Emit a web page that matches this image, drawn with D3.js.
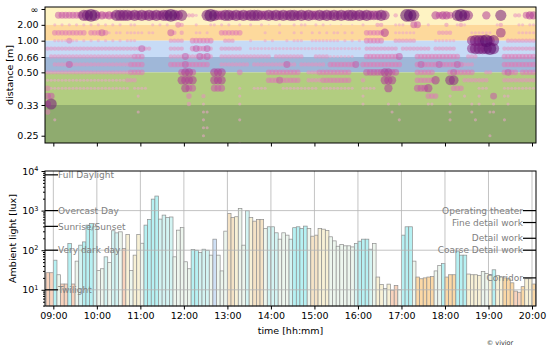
<!DOCTYPE html>
<html>
<head>
<meta charset="utf-8">
<script src="https://cdn.jsdelivr.net/npm/d3@7"></script>
<style>
  body { margin: 0; background: #fff; }
  text { font-family: "DejaVu Sans", sans-serif; }
</style>
</head>
<body>
<div id="chart"></div>
<script>
// ---- data ----
// top panel: viewing distance bins (diopters) and dot intensity per 5-minute column from 08:50
var rowDiopters = [0.2, 0.5, 0.75, 1, 1.25, 1.5, 1.75, 2, 2.25, 2.5, 2.75, 3, 3.25, 3.5, 3.75, 4, 4.25];
var dotRows = [
  "...5555555 8898565658 8887878787 87889878.3 32..898778 8787878887 7878787887 8787787878 7878878787 7787..3..9 98.....656 65.8987... .6...8...3 3.566",
  "..2.2.2.2. 2.2.2.2.2. 2..22....2 .2.2..43.. .2...22.2. 2..2..2..2 .1..2...2. 22..2.2.1. .1..1..2.. .33...222. .55..2.... 3..232.... ....23.... 22.22",
  "..44444444 4.444542.2 2.22222.22 ....53.3.. .22.2...44 4444...... 2...2...2. 2..2.2.2.2 2.2.2...44 4446..2222 22......33 33.....222 222..7.... 22222",
  "..2222422. 2.2.2.2.2. 2.222..... ....3333.. 444444...3 33....2... 2.2...2.22 2..2222222 2.2.2.2.44 444...3333 33.....222 222....788 8978...333 33333",
  "3333333333 3333333333 333333533. ....3333.. 454453..33 3333..2222 2222222222 2222222222 2222222.33 3333333.33 333333.333 333....788 8898..3333 33333",
  ".333333333 3333333333 3333444... ....333353 335453..33 3333333333 33.3333333 3...333322 22222...44 44444445.. ..44444444 4444..333. ......4444 44444",
  "..33335333 3333333333 3334444... ....444454 44444...33 333333.333 333333533. 3333333.44 444445.444 44444444.. ..45444454 44454333.. ......4444 44444",
  "3333333333 3333333333 3334444... .......566 5.....666. ...4...... .444444444 ..33344444 4444....55 5556655... ..44444... .4544444.. .33...4544 .4444",
  "2222222222 2222222222 22333..... .......666 6.....666. .......... .444544444 ..33334444 4444...3.. ...666.... ..444446.. .77..33333 33....3333 33333",
  "4222222222 2222222222 222.2222.. ........65 5.....555. ...2...222 2....22222 22222.2222 22222..222 2...6..... ..5556.... ..444....2 22....2222 22222",
  "55........ .......... .....2.... .........4 ...3...... ...2...... .......... .......... .......2.. .......... .....444.. .2...2...2 ...5..22.. .....",
  "58........ .......... .......... .........3 ...2...... ...2...... .......... .......... .......2.. ....2..2.. .....22... .2.....2.2 ...2...2.. .....",
  "4......... .......... .....2.... .......... ...22..... .......... .......... .......... .......... .....2.... .......... .2.....2.. ..22...... .....",
  "..2....... .......... .......... .......... ...2...... ...2...... .......... .......... .......... .......2.. .......... .2......2. ......2... .....",
  ".......... .......... .......... .......... ...22..... .......... .......... .......... .......... .......... .......... .......... .......... .....",
  ".......... .......... .......... .......... ...2...... .......... .......... .......... .......... .......... .......... .......... ..2....... .....",
  ".......... .......... .......... .......... .......... ...2...... .......... .......... .......... .......... .......... .......... .......... ....."
];
var distTicks = [Infinity, 2, 1, 0.66, 0.5, 0.33, 0.25];   // metres
var zoneEdges = [Infinity, 2, 1, 0.66, 0.5, 0.33, 0];       // metres

// bottom panel: 5-minute bins from 08:50
var luxValues = [
  27, 27,
  56, 24, 14, 14, 148, 14, 53, 134, 162, 430, 470, 390,
  31, 34, 68, 49, 310, 274, 291, 110, 250, 31, 75, 250,
  150, 430, 600, 1950, 2330, 610, 770, 670, 690, 68, 321, 375,
  51, 34, 104, 100, 87, 106, 100, 75, 190, 75, 30, 303,
  848, 671, 700, 1135, 134, 990, 671, 542, 598, 598, 354, 390,
  390, 275, 190, 275, 240, 190, 370, 390, 354, 406, 354, 226,
  240, 354, 340, 315, 218, 172, 126, 139, 129, 129, 121, 147,
  169, 190, 190, 106, 148, 21, 13.6, 10.8, 13.9, 9.8, 12.8, 10,
  240, 390, 390, 53, 21, 19, 20, 21, 21.5, 30, 41, 46,
  21, 24, 24, 95, 75, 75, 25, 24, 24, 23, 29, 26,
  23, 32, 23, 21, 20, 19, 15, 9.3, 8.7, 12, 19, 19,
  14
];
// colour temperature class of each bin (1 warm ... 8 cold)
var cctClass = [
  1, 1,
  7, 5, 1, 1, 7, 1, 5, 6, 7, 7, 7, 6,
  5, 5, 6, 5, 6, 6, 5, 1, 4, 5, 4, 4,
  5, 7, 7, 7, 7, 6, 6, 6, 6, 5, 5, 5,
  5, 5, 7, 7, 6, 6, 6, 5, 8, 5, 5, 5,
  3, 3, 4, 5, 5, 6, 4, 3, 3, 3, 5, 6,
  6, 6, 5, 5, 5, 6, 7, 7, 7, 7, 5, 3,
  3, 4, 4, 4, 5, 5, 5, 5, 5, 5, 5, 6,
  7, 7, 7, 6, 5, 4, 4, 5, 4, 1, 1, 5,
  7, 7, 7, 5, 2, 2, 2, 2, 2, 5, 5, 7,
  2, 2, 2, 7, 7, 7, 4, 4, 4, 4, 5, 5,
  4, 7, 4, 4, 2, 2, 2, 1, 1, 2, 4, 4,
  2
];
var leftLevelNames = ["Full Daylight", "Overcast Day", "Sunrise/Sunset", "Very dark day", "Twilight"];
var leftLevelLux = [8000, 1000, 400, 100, 10];
var rightLevelNames = ["Operating theater", "Fine detail work", "Detail work", "Coarse Detail work", "Corridor"];
var rightLevelLux = [1000, 500, 200, 100, 20];

// ---- layout ----
var svgWidth = 550, svgHeight = 349;
var left = 45, right = 536;
var top1 = 7, bottom1 = 143;
var top2 = 171, bottom2 = 306;

var svg = d3.select("#chart").append("svg")
  .attr("width", svgWidth)
  .attr("height", svgHeight);

var t0 = new Date(2020, 0, 1, 8, 50);
function binTime(i, extraMin) { return d3.timeMinute.offset(t0, i * 5 + (extraMin || 0)); }

var x = d3.scaleTime()
  .domain([new Date(2020, 0, 1, 8, 48, 30), new Date(2020, 0, 1, 20, 5, 30)])
  .range([left, right]);
var hourTicks = d3.timeHour.range(new Date(2020, 0, 1, 9), new Date(2020, 0, 1, 20, 1));

// ================= top panel =================
var yTop = d3.scaleLinear().domain([-0.063, 4.23]).range([top1, bottom1]);
var zoneColors = ["#fef3c3", "#fdd99c", "#c7dbf6", "#9fb7d8", "#b2cd80", "#8fab6f"];

svg.append("clipPath").attr("id", "clipTop")
  .append("rect").attr("x", left).attr("y", top1).attr("width", right - left).attr("height", bottom1 - top1);

var topG = svg.append("g").attr("clip-path", "url(#clipTop)");

topG.selectAll(".zone")
  .data(d3.range(zoneEdges.length - 1))
  .enter().append("rect")
  .attr("x", left)
  .attr("width", right - left)
  .attr("y", function(k) { return k === 0 ? top1 : yTop(1 / zoneEdges[k]); })
  .attr("height", function(k) {
    var y0 = k === 0 ? top1 : yTop(1 / zoneEdges[k]);
    var y1 = zoneEdges[k + 1] === 0 ? bottom1 : yTop(1 / zoneEdges[k + 1]);
    return y1 - y0;
  })
  .attr("fill", function(k) { return zoneColors[k]; });

var dots = [];
dotRows.forEach(function(s, r) {
  s.replace(/ /g, "").split("").forEach(function(c, i) {
    if (c !== ".") dots.push({ t: binTime(i, 2.5), d: rowDiopters[r], level: +c });
  });
});
dots.sort(function(a, b) { return a.level - b.level; });

var rScale = d3.scalePow().exponent(1.15).domain([1, 9]).range([1, 6.3]);
var dotColor = d3.scaleLinear()
  .domain([1, 4, 6, 9])
  .range(["#f4bcd4", "#e07ab6", "#b03a98", "#57076a"]);

topG.selectAll(".dot")
  .data(dots)
  .enter().append("circle")
  .attr("cx", function(d) { return x(d.t); })
  .attr("cy", function(d) { return yTop(d.d); })
  .attr("r", function(d) { return rScale(d.level); })
  .attr("fill", function(d) { return dotColor(d.level); })
  .attr("fill-opacity", 0.55);

var yTopAxis = d3.axisLeft(yTop)
  .tickValues(distTicks.map(function(m) { return 1 / m; }))
  .tickFormat(function(v, i) { return distTicks[i] === Infinity ? "\u221e" : distTicks[i].toFixed(2); })
  .tickSize(3.5).tickPadding(3);
svg.append("g").attr("transform", "translate(" + left + ",0)").call(yTopAxis)
  .call(function(g) { g.select(".domain").remove(); })
  .selectAll("text").attr("font-size", "9.5px").attr("fill", "#000");

svg.append("g").attr("transform", "translate(0," + bottom1 + ")")
  .call(d3.axisBottom(x).tickValues(hourTicks).tickFormat("").tickSize(3.5))
  .call(function(g) { g.select(".domain").remove(); });

svg.append("rect").attr("x", left).attr("y", top1).attr("width", right - left).attr("height", bottom1 - top1)
  .attr("fill", "none").attr("stroke", "#000").attr("stroke-width", 1);

svg.append("text")
  .attr("transform", "translate(10," + ((top1 + bottom1) / 2) + ") rotate(-90)")
  .attr("text-anchor", "middle").attr("dy", "0.35em")
  .attr("font-size", "9.5px").text("distance [m]");

// ================= bottom panel =================
var yBot = d3.scaleLog().domain([3.9, 10000]).range([bottom2, top2]);
var cctColors = ["#f9d3bd", "#fbd8a6", "#f5e3c6", "#f8f1d6", "#edf6ee", "#d3f4f3", "#b6f1f3", "#cfe0f5"];

svg.append("g").selectAll(".bar")
  .data(luxValues)
  .enter().append("rect")
  .attr("x", function(v, i) { return x(binTime(i)); })
  .attr("width", function(v, i) { return x(binTime(i + 1)) - x(binTime(i)); })
  .attr("y", function(v) { return yBot(v); })
  .attr("height", function(v) { return bottom2 - yBot(v); })
  .attr("fill", function(v, i) { return cctColors[cctClass[i] - 1]; })
  .attr("stroke", "#8e8e8e").attr("stroke-width", 0.7);

// grid
var grid = svg.append("g").attr("stroke", "#b4b4b4").attr("stroke-width", 0.8);
grid.selectAll(".vg").data(hourTicks).enter().append("line")
  .attr("x1", function(d) { return x(d); }).attr("x2", function(d) { return x(d); })
  .attr("y1", top2).attr("y2", bottom2);
grid.selectAll(".hg").data([10, 100, 1000]).enter().append("line")
  .attr("x1", left).attr("x2", right)
  .attr("y1", function(d) { return yBot(d); }).attr("y2", function(d) { return yBot(d); });

// reference light levels
var levL = svg.append("g");
levL.selectAll("line").data(leftLevelLux).enter().append("line")
  .attr("x1", left).attr("x2", left + 13)
  .attr("y1", function(d) { return yBot(d); }).attr("y2", function(d) { return yBot(d); })
  .attr("stroke", "#000").attr("stroke-width", 1.2);
levL.selectAll("text").data(leftLevelNames).enter().append("text")
  .attr("x", left + 13).attr("y", function(d, i) { return yBot(leftLevelLux[i]); })
  .attr("dy", "0.35em").attr("font-size", "9px").attr("fill", "#808080").text(function(d) { return d; });

var levR = svg.append("g");
levR.selectAll("line").data(rightLevelLux).enter().append("line")
  .attr("x1", right - 13).attr("x2", right)
  .attr("y1", function(d) { return yBot(d); }).attr("y2", function(d) { return yBot(d); })
  .attr("stroke", "#000").attr("stroke-width", 1.2);
levR.selectAll("text").data(rightLevelNames).enter().append("text")
  .attr("x", right - 13).attr("y", function(d, i) { return yBot(rightLevelLux[i]); })
  .attr("dy", "0.35em").attr("text-anchor", "end")
  .attr("font-size", "9px").attr("fill", "#808080").text(function(d) { return d; });

// axes
var minorTicks = [];
[1, 10, 100, 1000].forEach(function(p) { d3.range(2, 10).forEach(function(m) { if (p * m >= 3.9) minorTicks.push(p * m); }); });

svg.append("g").attr("transform", "translate(" + left + ",0)")
  .call(d3.axisLeft(yBot).tickValues(minorTicks).tickFormat("").tickSize(2))
  .call(function(g) { g.select(".domain").remove(); });

var yBotAxis = svg.append("g").attr("transform", "translate(" + left + ",0)")
  .call(d3.axisLeft(yBot).tickValues([10, 100, 1000, 10000]).tickSize(3.5).tickPadding(3))
  .call(function(g) { g.select(".domain").remove(); });
yBotAxis.selectAll(".tick text").each(function(d) {
  var t = d3.select(this).text(null).attr("font-size", "9.5px").attr("fill", "#000");
  t.append("tspan").text("10");
  t.append("tspan").attr("dy", "-0.55em").attr("font-size", "6.5px").text(Math.round(Math.log10(d)));
});

svg.append("g").attr("transform", "translate(0," + bottom2 + ")")
  .call(d3.axisBottom(x).tickValues(hourTicks).tickFormat(d3.timeFormat("%H:%M")).tickSize(3.5).tickPadding(3))
  .call(function(g) { g.select(".domain").remove(); })
  .selectAll("text").attr("font-size", "9.5px").attr("fill", "#000");

svg.append("rect").attr("x", left).attr("y", top2).attr("width", right - left).attr("height", bottom2 - top2)
  .attr("fill", "none").attr("stroke", "#000").attr("stroke-width", 1);

svg.append("text")
  .attr("transform", "translate(13," + ((top2 + bottom2) / 2) + ") rotate(-90)")
  .attr("text-anchor", "middle").attr("dy", "0.35em")
  .attr("font-size", "9.5px").text("Ambient light [lux]");

svg.append("text")
  .attr("x", (left + right) / 2).attr("y", 334)
  .attr("text-anchor", "middle").attr("font-size", "9.5px").text("time [hh:mm]");

svg.append("text")
  .attr("x", 500).attr("y", 345)
  .attr("text-anchor", "middle").attr("font-size", "6.5px").attr("fill", "#333").text("\u00a9 vivior");
</script>
</body>
</html>
